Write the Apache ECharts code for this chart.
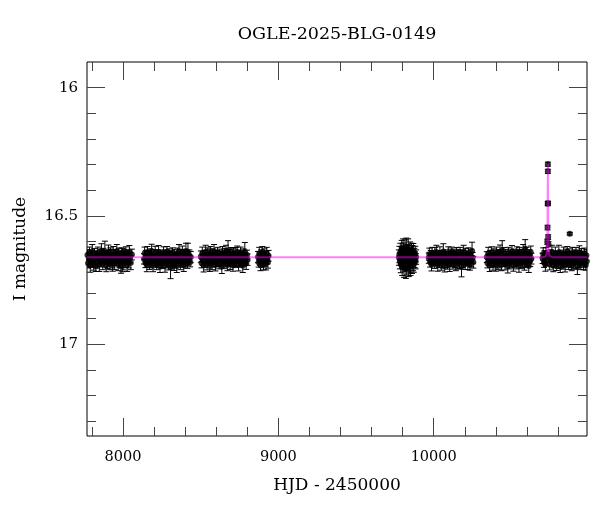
<!DOCTYPE html>
<html><head><meta charset="utf-8">
<script src="https://cdn.jsdelivr.net/npm/echarts@6/dist/echarts.min.js"></script>
<style>html,body{margin:0;padding:0;background:#fff}#c{width:600px;height:512px}</style>
</head><body><div id="c"></div>
<script>
// ---- data: [HJD-2450000, I mag, error] per observing season ----
const season1 = [[7771,16.652,0.021],[7775,16.684,0.018],[7780,16.667,0.024],[7784,16.641,0.020],[7789,16.693,0.026],[7793,16.659,0.019],[7798,16.676,0.022],[7802,16.638,0.027],[7807,16.670,0.017],[7811,16.688,0.023],[7816,16.647,0.020],[7820,16.662,0.025],[7825,16.695,0.021],[7829,16.655,0.018],[7834,16.679,0.024],[7838,16.643,0.022],[7843,16.668,0.019],[7847,16.690,0.026],[7852,16.650,0.021],[7856,16.673,0.023],[7861,16.636,0.028],[7865,16.661,0.020],[7870,16.685,0.024],[7874,16.645,0.019],[7879,16.677,0.022],[7883,16.640,0.042],[7888,16.664,0.021],[7892,16.692,0.025],[7897,16.653,0.018],[7901,16.681,0.023],[7906,16.639,0.026],[7910,16.669,0.020],[7915,16.687,0.022],[7919,16.648,0.024],[7924,16.674,0.019],[7928,16.657,0.027],[7933,16.694,0.021],[7937,16.642,0.023],[7942,16.666,0.018],[7946,16.683,0.025],[7951,16.651,0.020],[7955,16.671,0.022],[7960,16.637,0.026],[7964,16.660,0.019],[7969,16.689,0.024],[7973,16.646,0.021],[7978,16.678,0.023],[7982,16.656,0.018],[7987,16.696,0.027],[7991,16.644,0.020],[7996,16.672,0.045],[8000,16.658,0.022],[8005,16.686,0.024],[8009,16.649,0.019],[8014,16.675,0.026],[8018,16.641,0.021],[8023,16.665,0.023],[8027,16.691,0.025],[8032,16.654,0.018],[8036,16.680,0.022],[8041,16.639,0.024],[8045,16.663,0.020],[8050,16.682,0.027],[8057,16.650,0.021]];
const season2 = [[8135,16.667,0.020],[8139,16.645,0.024],[8144,16.682,0.019],[8148,16.656,0.022],[8153,16.691,0.026],[8157,16.640,0.021],[8162,16.672,0.018],[8166,16.660,0.025],[8171,16.686,0.022],[8175,16.648,0.020],[8180,16.677,0.024],[8184,16.637,0.027],[8189,16.664,0.019],[8193,16.694,0.023],[8198,16.652,0.021],[8202,16.675,0.018],[8207,16.643,0.025],[8211,16.668,0.022],[8216,16.689,0.020],[8220,16.655,0.024],[8225,16.681,0.019],[8229,16.641,0.026],[8234,16.670,0.021],[8238,16.697,0.023],[8243,16.650,0.018],[8247,16.676,0.025],[8252,16.659,0.022],[8256,16.685,0.020],[8261,16.644,0.024],[8265,16.666,0.019],[8270,16.692,0.027],[8274,16.653,0.021],[8279,16.679,0.023],[8283,16.639,0.020],[8288,16.663,0.025],[8292,16.688,0.022],[8297,16.647,0.019],[8301,16.674,0.024],[8306,16.699,0.045],[8310,16.657,0.021],[8315,16.683,0.023],[8319,16.642,0.018],[8324,16.669,0.026],[8328,16.690,0.022],[8333,16.651,0.020],[8337,16.678,0.024],[8342,16.661,0.019],[8346,16.695,0.025],[8351,16.646,0.021],[8355,16.671,0.023],[8360,16.638,0.027],[8364,16.665,0.020],[8369,16.687,0.022],[8373,16.654,0.024],[8378,16.680,0.019],[8382,16.643,0.026],[8387,16.668,0.021],[8391,16.693,0.023],[8396,16.649,0.018],[8400,16.673,0.025],[8405,16.636,0.030],[8409,16.662,0.022],[8414,16.684,0.020],[8418,16.640,0.034],[8423,16.670,0.021],[8427,16.656,0.024],[8432,16.679,0.019],[8436,16.660,0.022]];
const season3 = [[8501,16.658,0.022],[8505,16.683,0.019],[8510,16.645,0.024],[8514,16.671,0.021],[8519,16.692,0.026],[8523,16.652,0.018],[8528,16.677,0.023],[8532,16.639,0.025],[8537,16.664,0.020],[8541,16.688,0.022],[8546,16.648,0.024],[8550,16.673,0.019],[8555,16.656,0.027],[8559,16.695,0.021],[8564,16.642,0.023],[8568,16.667,0.018],[8573,16.684,0.025],[8577,16.650,0.022],[8582,16.679,0.020],[8586,16.637,0.026],[8591,16.662,0.021],[8595,16.690,0.024],[8600,16.654,0.019],[8604,16.675,0.023],[8609,16.644,0.022],[8613,16.669,0.025],[8618,16.686,0.020],[8622,16.647,0.018],[8627,16.672,0.024],[8631,16.660,0.021],[8636,16.697,0.027],[8640,16.641,0.022],[8645,16.666,0.019],[8649,16.682,0.023],[8654,16.651,0.025],[8658,16.678,0.020],[8663,16.638,0.024],[8667,16.663,0.021],[8672,16.691,0.022],[8676,16.636,0.040],[8681,16.674,0.019],[8685,16.657,0.026],[8690,16.687,0.021],[8694,16.646,0.023],[8699,16.670,0.018],[8703,16.653,0.025],[8708,16.693,0.022],[8712,16.643,0.020],[8717,16.668,0.024],[8721,16.681,0.019],[8726,16.649,0.026],[8730,16.676,0.021],[8735,16.640,0.023],[8739,16.665,0.020],[8744,16.689,0.025],[8748,16.655,0.022],[8753,16.680,0.019],[8757,16.645,0.024],[8762,16.671,0.021],[8766,16.659,0.023],[8771,16.694,0.026],[8775,16.648,0.020],[8780,16.673,0.022],[8784,16.639,0.036],[8789,16.666,0.021],[8793,16.684,0.024],[8798,16.652,0.019],[8802,16.670,0.022]];
const season4 = [[8869,16.660,0.022],[8873,16.680,0.019],[8877,16.646,0.024],[8881,16.671,0.021],[8885,16.690,0.023],[8889,16.652,0.020],[8893,16.676,0.025],[8897,16.641,0.022],[8901,16.665,0.019],[8905,16.686,0.024],[8909,16.649,0.021],[8913,16.673,0.023],[8917,16.657,0.020],[8921,16.684,0.026],[8925,16.644,0.022],[8929,16.668,0.019],[8933,16.679,0.024],[8937,16.655,0.021]];
const season5 = [[9776,16.662,0.030],[9779,16.650,0.032],[9782,16.675,0.031],[9785,16.640,0.034],[9788,16.688,0.033],[9791,16.655,0.036],[9794,16.630,0.035],[9797,16.698,0.034],[9800,16.668,0.038],[9803,16.625,0.036],[9806,16.645,0.040],[9809,16.702,0.037],[9812,16.680,0.035],[9815,16.632,0.039],[9818,16.660,0.041],[9821,16.705,0.038],[9824,16.622,0.036],[9827,16.690,0.040],[9830,16.648,0.037],[9833,16.672,0.042],[9836,16.628,0.039],[9839,16.700,0.036],[9842,16.655,0.040],[9845,16.684,0.038],[9848,16.636,0.035],[9851,16.695,0.037],[9854,16.664,0.039],[9857,16.642,0.036],[9860,16.690,0.034],[9863,16.652,0.037],[9866,16.678,0.035],[9869,16.640,0.033],[9872,16.685,0.034],[9875,16.658,0.032],[9878,16.670,0.031],[9881,16.648,0.030],[9884,16.676,0.030],[9887,16.660,0.028]];
const season6 = [[9968,16.664,0.020],[9972,16.649,0.024],[9977,16.680,0.019],[9981,16.656,0.022],[9986,16.689,0.025],[9990,16.643,0.021],[9995,16.671,0.018],[9999,16.660,0.023],[10004,16.684,0.020],[10008,16.647,0.024],[10013,16.674,0.019],[10017,16.640,0.026],[10022,16.666,0.021],[10026,16.692,0.023],[10031,16.653,0.018],[10035,16.678,0.022],[10040,16.645,0.025],[10044,16.669,0.020],[10049,16.687,0.024],[10053,16.655,0.019],[10058,16.681,0.022],[10062,16.638,0.030],[10067,16.663,0.021],[10071,16.695,0.023],[10076,16.651,0.019],[10080,16.676,0.025],[10085,16.659,0.020],[10089,16.685,0.022],[10094,16.644,0.024],[10098,16.668,0.018],[10103,16.690,0.026],[10107,16.650,0.021],[10112,16.673,0.023],[10116,16.641,0.020],[10121,16.662,0.024],[10125,16.686,0.021],[10130,16.648,0.019],[10134,16.675,0.025],[10139,16.657,0.022],[10143,16.693,0.020],[10148,16.646,0.023],[10152,16.670,0.019],[10157,16.683,0.024],[10161,16.652,0.021],[10166,16.679,0.026],[10170,16.642,0.020],[10175,16.665,0.022],[10179,16.697,0.040],[10184,16.654,0.019],[10188,16.677,0.023],[10193,16.639,0.025],[10197,16.667,0.021],[10202,16.688,0.020],[10206,16.650,0.024],[10211,16.672,0.019],[10215,16.658,0.022],[10220,16.684,0.025],[10224,16.645,0.021],[10229,16.669,0.023],[10233,16.691,0.020],[10238,16.653,0.024],[10242,16.676,0.022],[10247,16.636,0.034],[10251,16.663,0.021],[10255,16.680,0.023]];
const season7 = [[10342,16.660,0.021],[10346,16.683,0.019],[10351,16.646,0.024],[10355,16.672,0.022],[10360,16.691,0.025],[10364,16.654,0.020],[10369,16.678,0.023],[10373,16.641,0.021],[10378,16.666,0.018],[10382,16.687,0.024],[10387,16.650,0.022],[10391,16.675,0.020],[10396,16.658,0.025],[10400,16.694,0.021],[10405,16.644,0.023],[10409,16.669,0.019],[10414,16.685,0.024],[10418,16.652,0.021],[10423,16.680,0.022],[10427,16.639,0.026],[10432,16.664,0.020],[10436,16.690,0.023],[10441,16.634,0.038],[10445,16.676,0.021],[10450,16.647,0.024],[10454,16.670,0.019],[10459,16.688,0.022],[10463,16.655,0.025],[10468,16.673,0.020],[10472,16.661,0.023],[10477,16.696,0.026],[10481,16.643,0.021],[10486,16.667,0.019],[10490,16.682,0.024],[10495,16.651,0.022],[10499,16.679,0.020],[10504,16.640,0.025],[10508,16.665,0.021],[10513,16.692,0.023],[10517,16.648,0.019],[10522,16.674,0.024],[10526,16.657,0.022],[10531,16.686,0.020],[10535,16.645,0.025],[10540,16.671,0.021],[10544,16.653,0.023],[10549,16.693,0.026],[10553,16.642,0.020],[10558,16.668,0.022],[10562,16.681,0.024],[10567,16.649,0.019],[10571,16.677,0.023],[10576,16.638,0.027],[10580,16.663,0.021],[10585,16.689,0.022],[10589,16.628,0.036],[10594,16.680,0.020],[10598,16.646,0.024],[10603,16.672,0.021],[10607,16.659,0.023],[10612,16.695,0.025],[10616,16.651,0.020],[10621,16.675,0.022],[10625,16.641,0.024],[10629,16.666,0.021]];
const season8 = [[10701,16.665,0.020],[10705,16.648,0.024],[10710,16.681,0.019],[10714,16.657,0.022],[10719,16.690,0.025],[10723,16.644,0.021],[10727,16.670,0.023],[10743,16.662,0.020],[10747,16.686,0.024],[10752,16.651,0.019],[10756,16.676,0.022],[10761,16.640,0.026],[10765,16.667,0.021],[10770,16.694,0.023],[10774,16.654,0.018],[10779,16.679,0.022],[10783,16.646,0.025],[10788,16.671,0.020],[10792,16.688,0.024],[10797,16.656,0.019],[10801,16.682,0.022],[10806,16.641,0.027],[10810,16.664,0.021],[10815,16.697,0.023],[10819,16.652,0.019],[10824,16.677,0.025],[10828,16.660,0.020],[10833,16.685,0.022],[10837,16.645,0.024],[10842,16.669,0.018],[10846,16.692,0.026],[10851,16.650,0.021],[10855,16.674,0.023],[10860,16.639,0.020],[10864,16.663,0.024],[10869,16.687,0.021],[10873,16.647,0.019],[10880,16.675,0.025],[10884,16.658,0.022],[10889,16.693,0.020],[10893,16.645,0.023],[10898,16.671,0.019],[10902,16.683,0.024],[10907,16.653,0.021],[10911,16.680,0.026],[10916,16.643,0.020],[10920,16.666,0.022],[10925,16.698,0.030],[10929,16.655,0.019],[10934,16.678,0.023],[10938,16.641,0.025],[10943,16.668,0.021],[10947,16.689,0.020],[10952,16.651,0.024],[10956,16.673,0.019],[10961,16.659,0.022],[10965,16.684,0.025],[10970,16.646,0.021],[10974,16.670,0.023],[10979,16.691,0.020],[10983,16.654,0.024],[10986,16.676,0.022]];
// the event and one outlier
const eventPts = [[10731,16.600,0.010],[10733,16.545,0.009],[10734,16.452,0.008],[10735,16.298,0.008],[10735,16.326,0.008],[10736,16.450,0.008],[10737,16.582,0.009],[10739,16.610,0.010],[10876,16.569,0.005]];

// model curve
const modelT = [7768,10700,10718,10724,10728,10730,10732,10733,10734,10735,10736,10737,10738,10740,10742,10746,10752,10770,10987];
const modelM = [16.661,16.661,16.659,16.655,16.645,16.630,16.580,16.520,16.420,16.296,16.420,16.520,16.580,16.630,16.645,16.655,16.659,16.661,16.661];

// axes / ticks
const xMajor = [8000,9000,10000];
const xMinor = [7800,8000,8200,8400,8600,8800,9000,9200,9400,9600,9800,10000,10200,10400,10600,10800];
const yMajor = [16,16.5,17];
const yMinor = [16.0,16.1,16.2,16.3,16.4,16.5,16.6,16.7,16.8,16.9,17.0,17.1,17.2,17.3];
const X_MIN = 7768, X_MAX = 10987, Y_MIN = 15.9, Y_MAX = 17.357;
const titleText = 'OGLE-2025-BLG-0149';
const xName = 'HJD - 2450000';
const yName = 'I magnitude';

// ---- build ----
const F = 'DejaVu Serif';
const pts = [].concat(season1, season2, season3, season4, season5, season6, season7, season8, eventPts);
const model = modelT.map((t,i)=>[t, modelM[i]]);

const tickColor = '#444';
function xAx(pos, vals, len, withLabel){
  const a = {type:'value', gridIndex:0, position:pos, min:X_MIN, max:X_MAX,
    axisLine:{show:false}, splitLine:{show:false},
    axisTick:{show:true, inside:true, length:len, customValues:vals, lineStyle:{color:tickColor,width:1}},
    axisLabel:{show:false}};
  if (withLabel){
    a.axisLabel = {show:true, customValues:vals, color:'#000', fontFamily:F, fontSize:14.5, margin:14,
      formatter: v => String(v)};
    a.name = xName; a.nameLocation='middle'; a.nameGap=41;
    a.nameTextStyle = {color:'#000', fontFamily:F, fontSize:17};
  }
  return a;
}
function yAx(pos, vals, len, withLabel){
  const a = {type:'value', gridIndex:0, position:pos, min:Y_MIN, max:Y_MAX, inverse:true,
    axisLine:{show:false}, splitLine:{show:false},
    axisTick:{show:true, inside:true, length:len, customValues:vals, lineStyle:{color:tickColor,width:1}},
    axisLabel:{show:false}};
  if (withLabel){
    a.axisLabel = {show:true, customValues:vals, color:'#000', fontFamily:F, fontSize:15, margin:9,
      formatter: v => String(v)};
    a.name = yName; a.nameLocation='middle'; a.nameGap=58; a.nameRotate=90;
    a.nameTextStyle = {color:'#000', fontFamily:F, fontSize:17};
  }
  return a;
}

const chart = echarts.init(document.getElementById('c'), null, {renderer:'canvas'});
chart.setOption({
  animation:false,
  backgroundColor:'#fff',
  grid:{left:87, right:13, top:62, bottom:76, show:true, borderColor:'#000', borderWidth:1, backgroundColor:'transparent', containLabel:false},
  graphic:[{type:'text', x:337, y:34, style:{text:titleText, fill:'#000', font:'17.5px "DejaVu Serif"', textAlign:'center', textVerticalAlign:'middle'}}],
  xAxis:[xAx('bottom', xMajor, 18, true), xAx('bottom', xMinor, 9, false), xAx('top', xMajor, 18, false), xAx('top', xMinor, 9, false)],
  yAxis:[yAx('left', yMajor, 18, true), yAx('left', yMinor, 9, false), yAx('right', yMajor, 18, false), yAx('right', yMinor, 9, false)],
  series:[
    {type:'custom', xAxisIndex:0, yAxisIndex:0, data:pts, encode:{x:0,y:1}, silent:true, z:2, clip:true,
      renderItem:function(params, api){
        const t = api.value(0), m = api.value(1), e = api.value(2);
        const a = api.coord([t, m-e]), b = api.coord([t, m+e]);
        const hw = 3, st = {stroke:'#000', lineWidth:1};
        return {type:'group', children:[
          {type:'line', shape:{x1:a[0],y1:a[1],x2:b[0],y2:b[1]}, style:st},
          {type:'line', shape:{x1:a[0]-hw,y1:a[1],x2:a[0]+hw,y2:a[1]}, style:st},
          {type:'line', shape:{x1:b[0]-hw,y1:b[1],x2:b[0]+hw,y2:b[1]}, style:st}
        ]};
      }},
    {type:'scatter', xAxisIndex:0, yAxisIndex:0, data:pts.map(p=>[p[0],p[1]]), symbol:'circle', symbolSize:6, itemStyle:{color:'#000'}, silent:true, z:3, clip:true},
    {type:'line', xAxisIndex:0, yAxisIndex:0, data:model, showSymbol:false, symbol:'none', lineStyle:{color:'rgba(255,0,255,0.5)', width:2}, silent:true, z:4}
  ]
});
</script>
</body></html>
